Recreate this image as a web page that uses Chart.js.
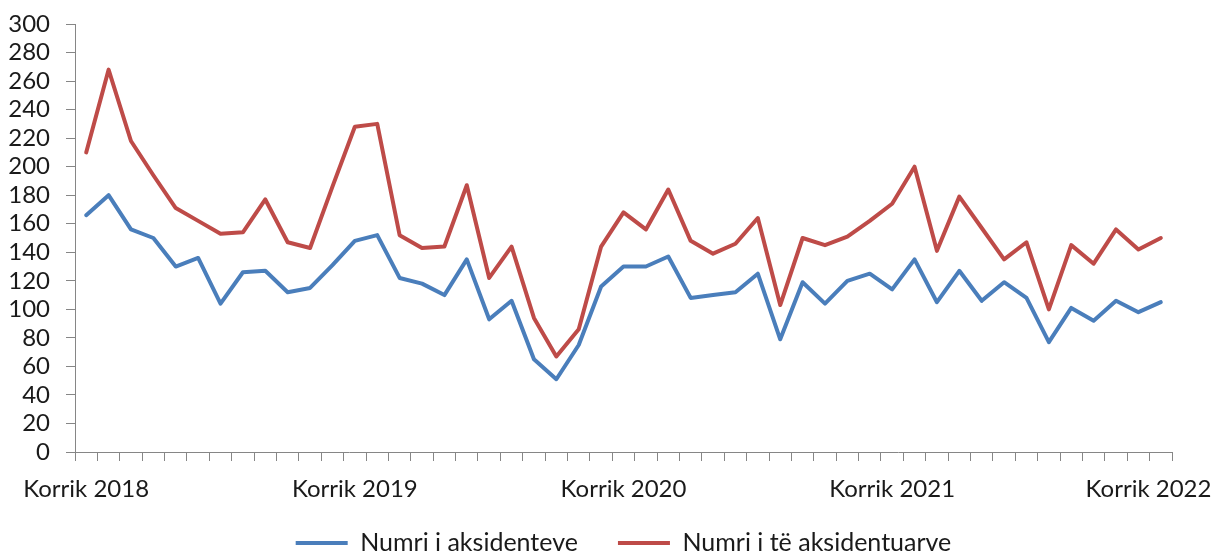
<!DOCTYPE html>
<html>
<head>
<meta charset="utf-8">
<script src="https://cdn.jsdelivr.net/npm/chart.js@4.4.1/dist/chart.umd.min.js"></script>
<style>
  html, body { margin: 0; padding: 0; background: #ffffff; }
  #wrap { width: 1215px; height: 552px; }
</style>
</head>
<body>
<div id="wrap"><canvas id="c" width="1215" height="552"></canvas></div>
<script>
const categories = [
  "Korrik 2018", "Gusht 2018", "Shtator 2018", "Tetor 2018", "Nëntor 2018", "Dhjetor 2018",
  "Janar 2019", "Shkurt 2019", "Mars 2019", "Prill 2019", "Maj 2019", "Qershor 2019",
  "Korrik 2019", "Gusht 2019", "Shtator 2019", "Tetor 2019", "Nëntor 2019", "Dhjetor 2019",
  "Janar 2020", "Shkurt 2020", "Mars 2020", "Prill 2020", "Maj 2020", "Qershor 2020",
  "Korrik 2020", "Gusht 2020", "Shtator 2020", "Tetor 2020", "Nëntor 2020", "Dhjetor 2020",
  "Janar 2021", "Shkurt 2021", "Mars 2021", "Prill 2021", "Maj 2021", "Qershor 2021",
  "Korrik 2021", "Gusht 2021", "Shtator 2021", "Tetor 2021", "Nëntor 2021", "Dhjetor 2021",
  "Janar 2022", "Shkurt 2022", "Mars 2022", "Prill 2022", "Maj 2022", "Qershor 2022",
  "Korrik 2022"
];

const shownTickLabels = ["Korrik 2018", "Korrik 2019", "Korrik 2020", "Korrik 2021", "Korrik 2022"];

const aksidente = [
  166, 180, 156, 150, 130, 136, 104, 126, 127, 112, 115, 131,
  148, 152, 122, 118, 110, 135, 93, 106, 65, 51, 75, 116,
  130, 130, 137, 108, 110, 112, 125, 79, 119, 104, 120, 125,
  114, 135, 105, 127, 106, 119, 108, 77, 101, 92, 106, 98,
  105
];

const aksidentuar = [
  210, 268, 218, 194, 171, 162, 153, 154, 177, 147, 143, 186,
  228, 230, 152, 143, 144, 187, 122, 144, 94, 67, 86, 144,
  168, 156, 184, 148, 139, 146, 164, 103, 150, 145, 151, 162,
  174, 200, 141, 179, 157, 135, 147, 100, 145, 132, 156, 142,
  150
];

const seriesNames = ["Numri i aksidenteve", "Numri i të aksidentuarve"];
const yTicks = { min: 0, max: 300, step: 20 };

const FONT = "Lato, 'Liberation Sans', sans-serif";
const TEXT = "#1a1a1a";
const AXIS = "#868686";

new Chart(document.getElementById('c'), {
  type: 'line',
  data: {
    labels: categories,
    datasets: [
      {
        label: seriesNames[0],
        data: aksidente,
        borderColor: '#4A7EBB',
        backgroundColor: '#4A7EBB',
        borderWidth: 4,
        pointRadius: 0,
        tension: 0,
        borderJoinStyle: 'round',
        borderCapStyle: 'round'
      },
      {
        label: seriesNames[1],
        data: aksidentuar,
        borderColor: '#BE4B48',
        backgroundColor: '#BE4B48',
        borderWidth: 4,
        pointRadius: 0,
        tension: 0,
        borderJoinStyle: 'round',
        borderCapStyle: 'round'
      }
    ]
  },
  options: {
    responsive: false,
    animation: false,
    devicePixelRatio: 1,
    layout: { padding: { left: 0, right: 0, top: 24, bottom: -13.5 } },
    plugins: {
      tooltip: { enabled: false },
      legend: {
        position: 'bottom',
        align: 'center',
        fullSize: false,
        title: {
          display: true,
          text: '',
          font: { family: FONT, size: 10 },
          padding: { top: -31.5, bottom: 0 }
        },
        labels: {
          font: { family: FONT, size: 25 },
          color: TEXT,
          boxWidth: 52,
          boxHeight: 4,
          padding: 40,
          generateLabels(chart) {
            return chart.data.datasets.map((ds, i) => ({
              text: ds.label,
              fillStyle: ds.borderColor,
              strokeStyle: ds.borderColor,
              lineWidth: 0,
              hidden: false,
              datasetIndex: i,
              fontColor: TEXT
            }));
          }
        }
      }
    },
    scales: {
      x: {
        type: 'category',
        offset: true,
        grid: {
          offset: true,
          drawOnChartArea: false,
          drawTicks: true,
          tickLength: 9,
          color: AXIS,
          lineWidth: 1
        },
        border: { display: true, color: AXIS, width: 1 },
        ticks: {
          autoSkip: false,
          maxRotation: 0,
          minRotation: 0,
          padding: 14,
          color: TEXT,
          font: { family: FONT, size: 24 },
          callback(value, index) {
            const lab = categories[index];
            if (!shownTickLabels.includes(lab)) return '';
            return index === categories.length - 1 ? lab + '\u00A0\u00A0\u00A0\u00A0' : lab;
          }
        },
        afterFit(scale) {
          scale.height = 58;
          scale.paddingLeft = 0;
          scale.paddingRight = 0;
        }
      },
      y: {
        min: yTicks.min,
        max: yTicks.max,
        grid: {
          drawOnChartArea: false,
          drawTicks: true,
          tickLength: 9,
          color: AXIS,
          lineWidth: 1
        },
        border: { display: true, color: AXIS, width: 1 },
        ticks: {
          autoSkip: false,
          stepSize: yTicks.step,
          padding: 16,
          color: TEXT,
          font: { family: FONT, size: 24 }
        },
        afterFit(scale) {
          scale.width = 75;
          scale.paddingTop = 0;
          scale.paddingBottom = 0;
        }
      },
      yRightSpace: {
        type: 'linear',
        position: 'right',
        display: true,
        grid: { display: false, drawTicks: false },
        border: { display: false },
        ticks: { display: false },
        afterFit(scale) {
          scale.width = 43;
          scale.paddingTop = 0;
          scale.paddingBottom = 0;
        }
      }
    }
  }
});
</script>
</body>
</html>
